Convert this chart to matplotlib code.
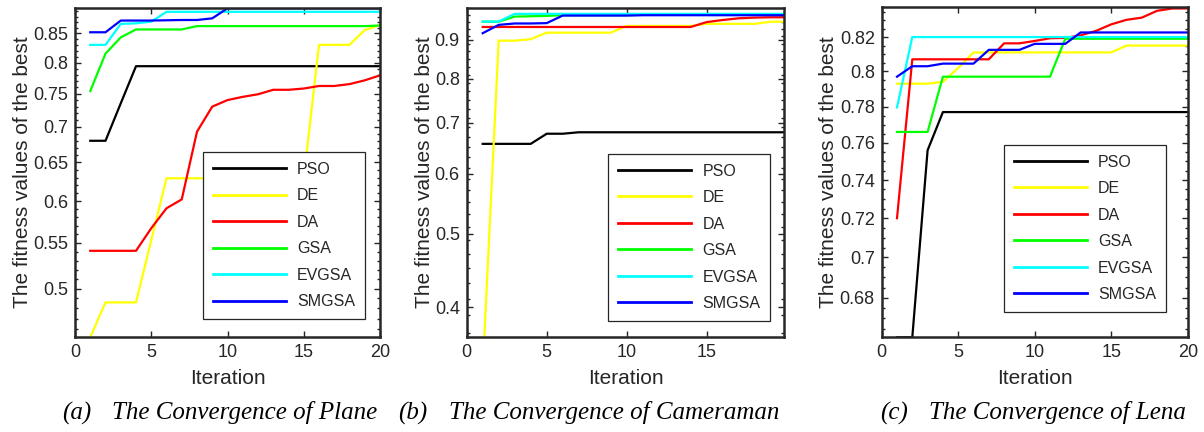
import matplotlib
matplotlib.use("Agg")
import matplotlib.pyplot as plt
from matplotlib.ticker import FixedLocator, FixedFormatter, NullFormatter
import numpy as np

plt.rcParams['font.family'] = ['Liberation Sans', 'DejaVu Sans']

iterations = list(range(1, 21))
series_names = ["PSO", "DE", "DA", "GSA", "EVGSA", "SMGSA"]
series_colors = ["#000000", "#FFFF00", "#FF0000", "#00FF00", "#00FFFF", "#0000FF"]

# (a) Plane
pso_a = [0.680, 0.680, 0.735, 0.794, 0.794, 0.794, 0.794, 0.794, 0.794, 0.794,
         0.794, 0.794, 0.794, 0.794, 0.794, 0.794, 0.794, 0.794, 0.794, 0.794]
de_a = [0.452, 0.486, 0.486, 0.486, 0.553, 0.629, 0.629, 0.629, 0.629, 0.629,
        0.629, 0.629, 0.629, 0.629, 0.629, 0.830, 0.830, 0.830, 0.856, 0.865]
da_a = [0.541, 0.541, 0.541, 0.541, 0.567, 0.591, 0.602, 0.693, 0.730, 0.740,
        0.745, 0.749, 0.756, 0.756, 0.758, 0.762, 0.762, 0.765, 0.771, 0.779]
gsa_a = [0.754, 0.815, 0.843, 0.857, 0.857, 0.857, 0.857, 0.863, 0.863, 0.863,
         0.863, 0.863, 0.863, 0.863, 0.863, 0.863, 0.863, 0.863, 0.863, 0.864]
evgsa_a = [0.830, 0.830, 0.867, 0.868, 0.871, 0.889, 0.889, 0.889, 0.889, 0.889,
           0.889, 0.889, 0.889, 0.889, 0.889, 0.889, 0.889, 0.889, 0.889, 0.889]
smgsa_a = [0.852, 0.852, 0.873, 0.873, 0.873, 0.8735, 0.874, 0.874, 0.877, 0.8955,
           0.8955, 0.8955, 0.8955, 0.8955, 0.8955, 0.8955, 0.8955, 0.8955, 0.8955, 0.8955]

# (b) Cameraman
pso_b = [0.6565, 0.6565, 0.6565, 0.6565, 0.677, 0.677, 0.680, 0.680, 0.680, 0.680,
         0.680, 0.680, 0.680, 0.680, 0.680, 0.680, 0.680, 0.680, 0.680, 0.680]
de_b = [0.330, 0.898, 0.898, 0.902, 0.920, 0.920, 0.920, 0.920, 0.920, 0.939,
        0.939, 0.939, 0.939, 0.939, 0.945, 0.945, 0.945, 0.945, 0.951, 0.951]
da_b = [0.936, 0.936, 0.936, 0.936, 0.936, 0.936, 0.936, 0.936, 0.936, 0.936,
        0.936, 0.936, 0.936, 0.936, 0.950, 0.956, 0.961, 0.963, 0.964, 0.964]
gsa_b = [0.951, 0.951, 0.966, 0.967, 0.968, 0.970, 0.970, 0.970, 0.970, 0.970,
         0.971, 0.971, 0.971, 0.971, 0.971, 0.971, 0.971, 0.971, 0.971, 0.971]
evgsa_b = [0.9515, 0.9515, 0.974, 0.974, 0.974, 0.974, 0.974, 0.974, 0.974, 0.974,
           0.974, 0.974, 0.974, 0.974, 0.974, 0.974, 0.974, 0.974, 0.974, 0.974]
smgsa_b = [0.9185, 0.942, 0.946, 0.946, 0.947, 0.969, 0.969, 0.969, 0.969, 0.969,
           0.970, 0.970, 0.970, 0.970, 0.970, 0.970, 0.970, 0.970, 0.970, 0.970]

# (c) Lena
pso_c = [0.661, 0.661, 0.756, 0.777, 0.777, 0.777, 0.777, 0.777, 0.777, 0.777,
         0.777, 0.777, 0.777, 0.777, 0.777, 0.777, 0.777, 0.777, 0.777, 0.777]
de_c = [0.793, 0.793, 0.793, 0.794, 0.802, 0.811, 0.811, 0.811, 0.811, 0.811,
        0.811, 0.811, 0.811, 0.811, 0.811, 0.815, 0.815, 0.815, 0.815, 0.815]
da_c = [0.720, 0.807, 0.807, 0.807, 0.807, 0.807, 0.807, 0.8163, 0.8163, 0.8177,
        0.8193, 0.8195, 0.821, 0.8236, 0.8275, 0.8302, 0.8315, 0.8356, 0.837, 0.837]
gsa_c = [0.766, 0.766, 0.766, 0.797, 0.797, 0.797, 0.797, 0.797, 0.797, 0.797,
         0.797, 0.819, 0.819, 0.819, 0.819, 0.819, 0.819, 0.819, 0.819, 0.819]
evgsa_c = [0.7796, 0.820, 0.820, 0.820, 0.820, 0.820, 0.820, 0.820, 0.820, 0.820,
           0.820, 0.820, 0.820, 0.820, 0.820, 0.820, 0.820, 0.820, 0.820, 0.820]
smgsa_c = [0.797, 0.803, 0.803, 0.8045, 0.8045, 0.8045, 0.8125, 0.8125, 0.8125, 0.816,
           0.816, 0.816, 0.8227, 0.8227, 0.8227, 0.8227, 0.8227, 0.8227, 0.8227, 0.8227]

yticks_a = [0.5, 0.55, 0.6, 0.65, 0.7, 0.75, 0.8, 0.85]
yticklabels_a = ["0.5", "0.55", "0.6", "0.65", "0.7", "0.75", "0.8", "0.85"]
yticks_b = [0.4, 0.5, 0.6, 0.7, 0.8, 0.9]
yticklabels_b = ["0.4", "0.5", "0.6", "0.7", "0.8", "0.9"]
yticks_c = [0.68, 0.70, 0.72, 0.74, 0.76, 0.78, 0.80, 0.82]
yticklabels_c = ["0.68", "0.7", "0.72", "0.74", "0.76", "0.78", "0.8", "0.82"]

xticks_a = [0, 5, 10, 15, 20]
xticks_b = [0, 5, 10, 15]
xticks_c = [0, 5, 10, 15, 20]

captions = [("(a)", "The Convergence of Plane"),
            ("(b)", "The Convergence of Cameraman"),
            ("(c)", "The Convergence of Lena")]

W, H = 1204, 432
fig = plt.figure(figsize=(W / 100, H / 100), dpi=100)

panels = [
    dict(rect=(75, 7.5, 380, 337.3), data=[pso_a, de_a, da_a, gsa_a, evgsa_a, smgsa_a],
         ylim=(0.452, 0.897), xlim=(0, 20), yt=yticks_a, ytl=yticklabels_a, xt=xticks_a,
         minor=np.arange(0.46, 0.90, 0.01), leg=(203, 152.3), ylx=32),
    dict(rect=(466.7, 7.5, 784.3, 337.3), data=[pso_b, de_b, da_b, gsa_b, evgsa_b, smgsa_b],
         ylim=(0.365, 0.993), xlim=(0, 19.85), yt=yticks_b, ytl=yticklabels_b, xt=xticks_b,
         minor=np.arange(0.37, 0.99, 0.02), leg=(608.3, 154), ylx=434),
    dict(rect=(881.7, 7.3, 1187.7, 337.3), data=[pso_c, de_c, da_c, gsa_c, evgsa_c, smgsa_c],
         ylim=(0.661, 0.8377), xlim=(0, 20), yt=yticks_c, ytl=yticklabels_c, xt=xticks_c,
         minor=np.arange(0.665, 0.836, 0.005), leg=(1004, 145), ylx=838),
]

axcol = "#262626"
for i, p in enumerate(panels):
    l, t, r, b = p["rect"]
    ax = fig.add_axes([l / W, 1 - b / H, (r - l) / W, (b - t) / H])
    for name, col, ys in zip(series_names, series_colors, p["data"]):
        ax.plot(iterations, ys, color=col, lw=1.6, label=name)
    ax.set_yscale("log")
    ax.set_xlim(*p["xlim"])
    ax.set_ylim(*p["ylim"])
    ax.yaxis.set_major_locator(FixedLocator(p["yt"]))
    ax.yaxis.set_major_formatter(FixedFormatter(p["ytl"]))
    ax.yaxis.set_minor_locator(FixedLocator(list(p["minor"])))
    ax.yaxis.set_minor_formatter(NullFormatter())
    ax.set_xticks(p["xt"])
    ax.set_xticklabels([str(v) for v in p["xt"]])
    ax.tick_params(which="both", direction="in", top=True, right=True,
                   colors=axcol, labelsize=13, width=1.0)
    ax.tick_params(which="major", length=4.5, pad=5)
    ax.tick_params(which="minor", length=2.5)
    for s in ax.spines.values():
        s.set_color(axcol)
        s.set_linewidth(1.8)
    ax.set_xlabel("Iteration", fontsize=15, color=axcol)
    ax.set_ylabel("The fitness values of the best", fontsize=15, color=axcol)
    ax.yaxis.set_label_coords((p["ylx"] - l) / (r - l), 0.5)
    ax.xaxis.set_label_coords(0.5, (b - 369) / (b - t))
    lx, ly = p["leg"]
    leg = ax.legend(loc="upper left", bbox_to_anchor=(lx / W, 1 - ly / H),
                    bbox_transform=fig.transFigure, borderaxespad=0,
                    fontsize=11.5, handlelength=4.6, handletextpad=0.7,
                    labelspacing=0.72, borderpad=0.6, fancybox=False,
                    framealpha=1, edgecolor=axcol)
    leg.get_frame().set_linewidth(0.9)
    for txt in leg.get_texts():
        txt.set_color(axcol)
    for ln in leg.get_lines():
        ln.set_linewidth(2.0)

cap_font = dict(family=["Liberation Serif", "DejaVu Serif"], style="italic",
                fontsize=18, color="#000000")
cap_pos = [(62, 112), (398, 449), (880, 929)]
for (lab, txt), (xl, xt) in zip(captions, cap_pos):
    fig.text(xl / W, 1 - 413 / H, lab, va="center", ha="left", **cap_font)
    fig.text(xt / W, 1 - 413 / H, txt, va="center", ha="left", **cap_font)

fig.savefig("out.png", dpi=100)
